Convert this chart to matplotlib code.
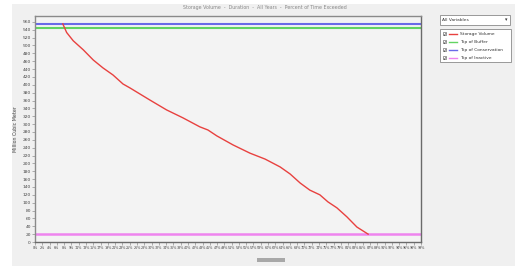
import numpy as np
import matplotlib.pyplot as plt
from matplotlib.patches import Rectangle
from matplotlib.lines import Line2D

# Data
pct_exceeded = [7.2, 8.2, 9.9, 12.5, 15.1, 17.6, 20.2, 22.8, 24.6, 29.8, 34.1, 38.3,
                42.7, 44.8, 47.1, 51.3, 55.7, 59.6, 63.5, 66.1, 68.7, 71.2, 73.8,
                75.9, 78.2, 80.8, 83.4, 86.3]
storage = [555, 533, 512, 489, 463, 443, 425, 402, 392, 361, 336, 316,
           293, 285, 270, 247, 226, 211, 191, 173, 150, 132, 120,
           102, 87, 64, 38, 20]
top_buffer = 544
top_conservation = 555
top_inactive = 20

series_names = ["Storage Volume", "Top of Buffer", "Top of Conservation", "Top of Inactive"]
series_colors = ["#e8413f", "#62d462", "#6a6ae8", "#ee84ee"]

y_ticks = list(range(0, 561, 20))
x_tick_labels = ["0%", "2%", "4%", "6%", "8%", "9%", "11%", "13%", "15%", "17%", "19%",
                 "21%", "23%", "25%", "26%", "28%", "30%", "32%", "34%", "36%", "38%",
                 "40%", "42%", "43%", "45%", "47%", "49%", "51%", "53%", "55%", "57%",
                 "58%", "60%", "62%", "64%", "66%", "68%", "70%", "72%", "74%", "75%",
                 "77%", "79%", "81%", "83%", "85%", "87%", "89%", "91%", "92%", "94%",
                 "96%", "98%", "99%"]

W, H = 530, 278


def fx(px):
    return px / W


def fy(py):
    return 1 - py / H


fig = plt.figure(figsize=(W / 100, H / 100), dpi=100)
fig.patch.set_facecolor("white")

# grey panel behind everything
fig.patches.append(Rectangle((fx(12), fy(266)), fx(515) - fx(12), fy(4) - fy(266),
                             transform=fig.transFigure, facecolor="#f0f0f0",
                             edgecolor="none", zorder=-5))

ax = fig.add_axes([fx(35), fy(242), fx(421) - fx(35), fy(16) - fy(242)])
ax.set_zorder(2)
ax.set_facecolor("#f3f3f3")

ax.axhline(top_inactive, color=series_colors[3], lw=1.8)
ax.axhline(top_buffer, color=series_colors[1], lw=1.5)
ax.axhline(top_conservation, color=series_colors[2], lw=1.5)
ax.plot(pct_exceeded, storage, color=series_colors[0], lw=1.0)

ax.set_xlim(0, 100)
ax.set_ylim(0, 575)
ax.set_yticks(y_ticks)
ax.set_yticklabels([str(v) for v in y_ticks], fontsize=3.2, color="#444444")
ax.set_xticks(np.linspace(0, 100, len(x_tick_labels)))
ax.set_xticklabels(x_tick_labels, fontsize=2.4, color="#444444")
ax.tick_params(length=2, width=0.4, color="#777777", pad=1)
for sp in ax.spines.values():
    sp.set_color("#8a8a8a")
    sp.set_linewidth(1.0)
ax.spines["right"].set_color("#6a6a6a")
ax.spines["bottom"].set_color("#6a6a6a")
ax.set_ylabel("Million Cubic Meter", fontsize=3.4, color="#444444", labelpad=3)

# title (faint)
fig.text(fx(265), fy(8), "Storage Volume  -  Duration  -  All Years  -  Percent of Time Exceeded",
         fontsize=3.4, color="#888888", ha="center", va="center")

# dropdown box
fig.patches.append(Rectangle((fx(440), fy(25)), fx(510) - fx(440), fy(15) - fy(25),
                             transform=fig.transFigure, facecolor="white",
                             edgecolor="#8a8a8a", lw=0.6))
fig.text(fx(442), fy(20), "All Variables", fontsize=3.2, color="#333333", va="center")
fig.text(fx(506), fy(20), "▾", fontsize=3.5, color="#333333", va="center", ha="center")

# legend box
fig.patches.append(Rectangle((fx(440), fy(62)), fx(511) - fx(440), fy(29) - fy(62),
                             transform=fig.transFigure, facecolor="white",
                             edgecolor="#8a8a8a", lw=0.6))
for i, (name, col) in enumerate(zip(series_names, series_colors)):
    yy = 33.5 + i * 8
    fig.patches.append(Rectangle((fx(442.5), fy(yy + 1.6)), fx(3.2), fy(0) - fy(3.2),
                                 transform=fig.transFigure, facecolor="white",
                                 edgecolor="#555555", lw=0.4, zorder=3))
    fig.text(fx(444.1), fy(yy), "✓", fontsize=3.6, fontweight="bold", color="#222222",
             ha="center", va="center", zorder=4)
    fig.lines.append(Line2D([fx(449), fx(457)], [fy(yy), fy(yy)],
                            transform=fig.transFigure, color=col, lw=1.0, zorder=3))
    fig.text(fx(460), fy(yy), name, fontsize=3.2, color="#333333", va="center")

# small scroll thumb under the chart
fig.patches.append(Rectangle((fx(257), fy(262)), fx(285) - fx(257), fy(258) - fy(262),
                             transform=fig.transFigure, facecolor="#a8a8a8",
                             edgecolor="none"))

fig.savefig("out.png", dpi=100)
